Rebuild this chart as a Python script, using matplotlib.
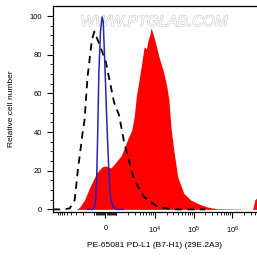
import matplotlib
matplotlib.use("Agg")
import matplotlib.pyplot as plt
import matplotlib.patheffects as pe
from matplotlib.ticker import FixedLocator, NullFormatter

plt.rcParams['font.family'] = ['Liberation Sans', 'DejaVu Sans']

# sample (PD-L1 stained), red filled histogram
red_x = [-2900, -2440, -1810, -1350, -800, -300, 0, 500, 900, 1350, 2030, 2500,
         2900, 3260, 3800, 4380, 5230, 6000, 6620, 7300, 7900, 8500, 9440, 11000,
         12700, 15000, 17000, 20000, 22900, 26000, 30700, 38900, 55500, 84000,
         150000, 229000, 410000, 1e6, 3.4e6, 3.9e6, 4.4e6]
red_y = [0, 1, 4.8, 11, 18.8, 22, 22.5, 21.4, 24, 28, 37, 41,
         48, 58, 66, 73.6, 84, 83, 87.6, 90, 93.8, 92, 89, 84,
         78.8, 74, 70.5, 64, 56.6, 42, 30.7, 16.7, 8.4, 4.8,
         2.5, 1.2, 0.3, 0.2, 0, 5, 6]

# isotype control, dashed black
dash_x = [-11900, -6620, -4380, -3260, -2700, -2030, -1810, -1510, -1170, -1000,
          -500, 0, 800, 1170, 1600, 2900, 5230, 11900, 30700, 200000]
dash_y = [0, 0, 0.5, 4.8, 20, 39.5, 46, 68.4, 87.6, 92,
          84.5, 77.2, 55, 48.8, 34.3, 15.1, 6.4, 1.2, 0, 0]

# unstained, blue line
blue_x = [-1500, -1130, -1000, -900, -800, -700, -600, -450, -300, -200,
          -50, 100, 200, 350, 500, 700, 1000, 1500]
blue_y = [0, 0, 1, 4.8, 15, 40, 70, 92, 99.5, 97,
          75, 50, 35, 15, 5, 1.5, 0, 0]

x_ticks = [0, 1e4, 1e5, 1e6]
x_labels = ['0', r'$\mathregular{10^4}$', r'$\mathregular{10^5}$', r'$\mathregular{10^6}$']

fig = plt.figure(figsize=(2.57, 2.59), dpi=100)
ax = fig.add_axes([0.206, 0.183, 0.794, 0.794])
ax.set_xscale('symlog', linthresh=1000, linscale=0.256)

ax.fill_between(red_x, red_y, 0, color='#ff0000', lw=0, zorder=1)
ax.plot(dash_x, dash_y, color='black', lw=1.3, ls=(0, (4, 3)), zorder=2)
ax.plot(blue_x, blue_y, color='#2626b0', lw=1.1, zorder=3)

ax.set_xlim(-11900, 4.4e6)
ax.set_ylim(-1.15, 105.2)

minor = [i * 100 for i in range(-10, 11) if i != 0]
for k in range(3, 7):
    for m in range(1, 10):
        minor.append(m * 10 ** k)
        if k < 4:
            minor.append(-m * 10 ** k)
ax.xaxis.set_major_locator(FixedLocator(x_ticks))
ax.xaxis.set_minor_locator(FixedLocator(minor))
ax.xaxis.set_minor_formatter(NullFormatter())
ax.set_xticklabels(x_labels)

ax.set_yticks([0, 20, 40, 60, 80, 100])
ax.set_yticks(range(0, 105, 5), minor=True)

ax.tick_params(axis='both', which='major', length=4, width=0.8, labelsize=5.5, pad=4)
ax.tick_params(axis='both', which='minor', length=2.5, width=0.6)
ax.tick_params(axis='x', which='major', pad=5.5)

ax.spines['right'].set_visible(False)
for s in ['left', 'top', 'bottom']:
    ax.spines[s].set_linewidth(0.9)

ax.set_ylabel('Relative cell number', fontsize=6, labelpad=10)
ax.set_xlabel('PE-65081 PD-L1 (B7-H1) (29E.2A3)', fontsize=6, labelpad=4)

ax.text(0.495, 0.922, 'WWW.PTGLAB.COM', transform=ax.transAxes, ha='center',
        va='center', fontsize=11, style='italic', color='white', zorder=0.5,
        path_effects=[pe.withStroke(linewidth=0.9, foreground='#cccccc')])

fig.savefig('out.png', dpi=100)
